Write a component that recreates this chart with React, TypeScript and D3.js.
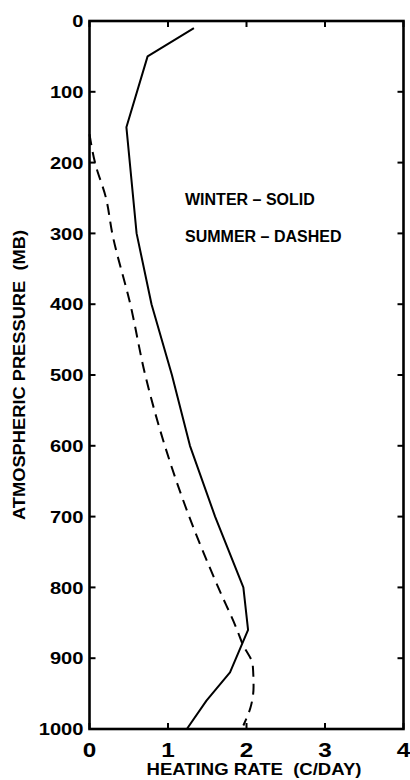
import * as d3 from "d3";
import React, { useEffect, useRef } from "react";

// pressure levels (mb) and heating rate (C/day)
const winterPressure = [10, 50, 150, 300, 400, 500, 600, 700, 800, 860, 920, 960, 1000];
const winterRate = [1.33, 0.74, 0.47, 0.6, 0.79, 1.05, 1.28, 1.6, 1.96, 2.02, 1.79, 1.49, 1.24];

const summerPressure = [160, 200, 250, 300, 400, 500, 600, 700, 800, 860, 880, 910, 940, 970, 995];
const summerRate = [0.0, 0.07, 0.21, 0.29, 0.52, 0.71, 0.96, 1.27, 1.64, 1.88, 1.95, 2.08, 2.09, 2.05, 1.96];

const xTicks = [0, 1, 2, 3, 4];
const yTicks = [0, 100, 200, 300, 400, 500, 600, 700, 800, 900, 1000];
const legendLines = ["WINTER \u2013 SOLID", "SUMMER \u2013 DASHED"];

const WIDTH = 410;
const HEIGHT = 780;
const FONT = "'Liberation Sans', Arial, Helvetica, sans-serif";

const HeatingRateChart: React.FC = () => {
  const svgRef = useRef<SVGSVGElement>(null);

  useEffect(() => {
    if (!svgRef.current) return;
    const svg = d3.select(svgRef.current);
    svg.selectAll("*").remove();

    const margin = { top: 21, right: 6.5, bottom: 51, left: 89.5 };
    const x = d3
      .scaleLinear()
      .domain([0, 4])
      .range([margin.left, WIDTH - margin.right]);
    const y = d3
      .scaleLinear()
      .domain([0, 1000])
      .range([margin.top, HEIGHT - margin.bottom]);

    const tickLen = 6;

    // ticks pointing inward on all four sides
    const g = svg.append("g").attr("stroke", "#000").attr("stroke-width", 2);
    yTicks.forEach((t) => {
      g.append("line").attr("x1", x(0)).attr("x2", x(0) + tickLen).attr("y1", y(t)).attr("y2", y(t));
      g.append("line").attr("x1", x(4)).attr("x2", x(4) - tickLen).attr("y1", y(t)).attr("y2", y(t));
    });
    xTicks.forEach((t) => {
      g.append("line").attr("x1", x(t)).attr("x2", x(t)).attr("y1", y(1000)).attr("y2", y(1000) - tickLen);
      g.append("line").attr("x1", x(t)).attr("x2", x(t)).attr("y1", y(0)).attr("y2", y(0) + tickLen);
    });

    // frame
    svg
      .append("rect")
      .attr("x", x(0))
      .attr("y", y(0))
      .attr("width", x(4) - x(0))
      .attr("height", y(1000) - y(0))
      .attr("fill", "none")
      .attr("stroke", "#000")
      .attr("stroke-width", 2.6);

    // y tick labels
    svg
      .selectAll(".ylab")
      .data(yTicks)
      .join("text")
      .attr("class", "ylab")
      .attr("x", x(0) - 6)
      .attr("y", (d) => y(d))
      .attr("dy", "0.36em")
      .attr("text-anchor", "end")
      .attr("textLength", (d) => String(d).length * 11.2)
      .attr("lengthAdjust", "spacingAndGlyphs")
      .style("font-family", FONT)
      .style("font-size", "17px")
      .style("font-weight", "700")
      .text((d) => d);

    // x tick labels
    svg
      .selectAll(".xlab")
      .data(xTicks)
      .join("text")
      .attr("class", "xlab")
      .attr("x", (d) => x(d))
      .attr("y", 757)
      .attr("text-anchor", "middle")
      .attr("textLength", 13.5)
      .attr("lengthAdjust", "spacingAndGlyphs")
      .style("font-family", FONT)
      .style("font-size", "20px")
      .style("font-weight", "700")
      .text((d) => d);

    // axis titles
    svg
      .append("text")
      .attr("x", 254)
      .attr("y", 775)
      .attr("text-anchor", "middle")
      .attr("textLength", 215)
      .attr("lengthAdjust", "spacingAndGlyphs")
      .style("font-family", FONT)
      .style("font-size", "17px")
      .style("font-weight", "700")
      .style("white-space", "pre")
      .text("HEATING RATE  (C/DAY)");

    svg
      .append("text")
      .attr("transform", `translate(25,${(y(0) + y(1000)) / 2}) rotate(-90)`)
      .attr("text-anchor", "middle")
      .attr("textLength", 290)
      .attr("lengthAdjust", "spacingAndGlyphs")
      .style("font-family", FONT)
      .style("font-size", "17px")
      .style("font-weight", "700")
      .style("white-space", "pre")
      .text("ATMOSPHERIC PRESSURE  (MB)");

    // legend text
    svg
      .selectAll(".legend")
      .data(legendLines)
      .join("text")
      .attr("class", "legend")
      .attr("x", 185)
      .attr("y", (_, i) => 205 + i * 37)
      .style("font-family", FONT)
      .style("font-size", "16px")
      .style("font-weight", "700")
      .text((d) => d);

    // curves
    const line = d3
      .line<[number, number]>()
      .x((d) => x(d[1]))
      .y((d) => y(d[0]));

    const winter = winterPressure.map((p, i) => [p, winterRate[i]] as [number, number]);
    const summer = summerPressure.map((p, i) => [p, summerRate[i]] as [number, number]);

    svg
      .append("path")
      .attr("d", line(winter))
      .attr("fill", "none")
      .attr("stroke", "#000")
      .attr("stroke-width", 2)
      .attr("stroke-linejoin", "round");

    svg
      .append("path")
      .attr("d", line.curve(d3.curveMonotoneY)(summer))
      .attr("fill", "none")
      .attr("stroke", "#000")
      .attr("stroke-width", 2)
      .attr("stroke-dasharray", "11,7");
  }, []);

  return (
    <div style={{ position: "absolute", left: 0, top: 0, background: "#fff" }}>
      <svg ref={svgRef} width={WIDTH} height={HEIGHT} style={{ display: "block" }} />
    </div>
  );
};

export default function App() {
  return <HeatingRateChart />;
}
